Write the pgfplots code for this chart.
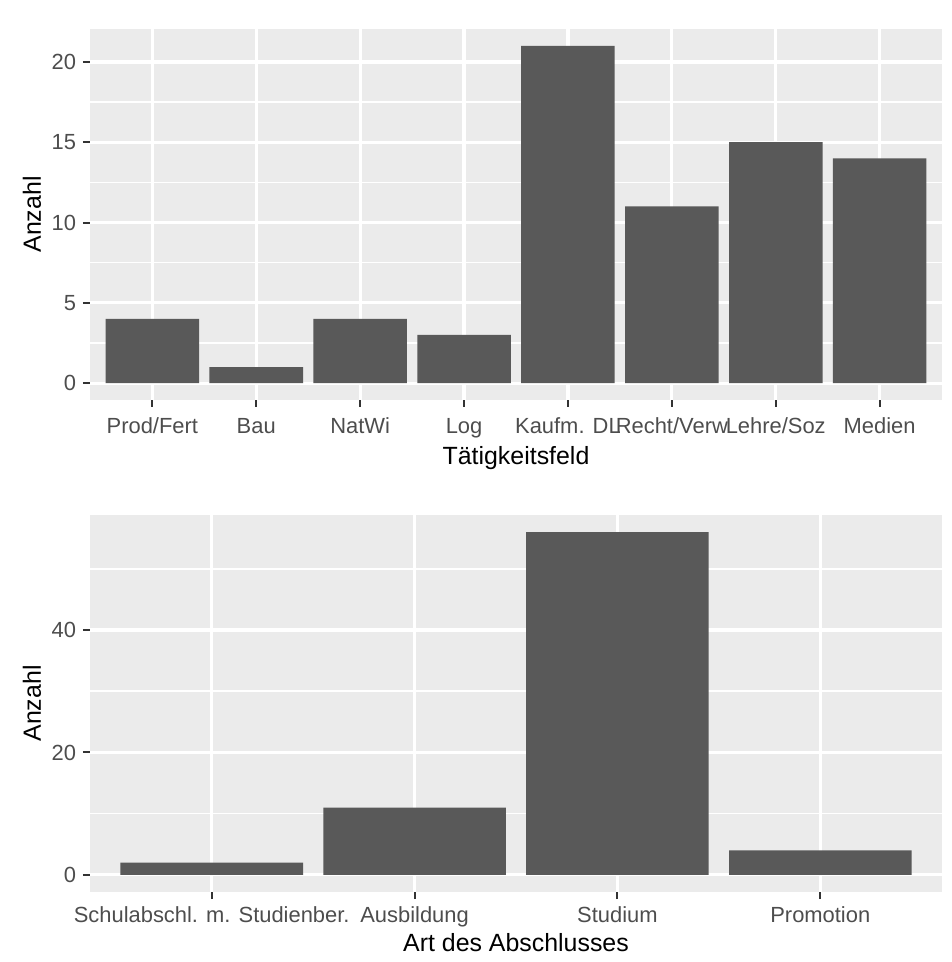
\documentclass[border=0pt]{standalone}
\usepackage{fontspec}
\setmainfont{Liberation Sans}
\usepackage{pgfplots}
\usepackage{pgfplotstable}
\pgfplotsset{compat=1.18}
\definecolor{panel}{HTML}{EBEBEB}
\definecolor{barc}{HTML}{595959}
\definecolor{tickc}{HTML}{333333}
\definecolor{tickl}{HTML}{4D4D4D}

\pgfplotstableread{
x y
1 4
2 1
3 4
4 3
5 21
6 11
7 15
8 14
}\topdata

\pgfplotstableread{
x y
1 2
2 11
3 56
4 4
}\bottomdata

\pgfplotsset{
  ggstyle/.style={
    scale only axis,
    width=426bp,
    axis background/.style={fill=panel},
    axis line style={draw=none},
    tick align=outside,
    major tick length=3.5bp,
    minor tick length=0pt,
    tick style={color=tickc, line width=1bp},
    xtick pos=lower, ytick pos=left,
    xmajorgrids, ymajorgrids, yminorgrids,
    major grid style={white, line width=1.6bp},
    minor grid style={white, line width=0.8bp},
    ticklabel style={font=\fontsize{11}{13}\selectfont, text=tickl},
    xticklabel style={text height=1.6ex, text depth=0.3ex},
    label style={font=\fontsize{12.5}{15}\selectfont, text=black},
    /pgf/number format/assume math mode=true,
    ybar, bar width=0.9,
    ylabel={Anzahl},
    ylabel style={at={(axis description cs:-0.068,0.5)}, anchor=center},
  }
}

\begin{document}
\begin{tikzpicture}
\useasboundingbox (0,0) rectangle (476bp,481bp);
\begin{axis}[ggstyle,
  at={(45bp,281bp)}, anchor=south west,
  height=185.5bp,
  xmin=0.4, xmax=8.6, ymin=-1.05, ymax=22.05,
  xtick={1,2,3,4,5,6,7,8},
  xticklabels={Prod/Fert,Bau,NatWi,Log,Kaufm. DL,Recht/Verw,Lehre/Soz,Medien},
  xticklabel style={yshift=-1.5bp},
  ytick={0,5,10,15,20},
  minor ytick={2.5,7.5,12.5,17.5},
  xlabel={Tätigkeitsfeld},
  xlabel style={at={(axis description cs:0.5,-0.156)}, anchor=center},
]
\addplot[fill=barc, draw=none] table[x=x,y=y] {\topdata};
\end{axis}
\begin{axis}[ggstyle,
  at={(45bp,35bp)}, anchor=south west,
  height=188.5bp,
  xmin=0.4, xmax=4.6, ymin=-2.8, ymax=58.8,
  xtick={1,2,3,4},
  xticklabels={Schulabschl. m. Studienber.,Ausbildung,Studium,Promotion},
  ytick={0,20,40},
  minor ytick={10,30,50},
  xlabel={Art des Abschlusses},
  xlabel style={at={(axis description cs:0.5,-0.135)}, anchor=center},
]
\addplot[fill=barc, draw=none] table[x=x,y=y] {\bottomdata};
\end{axis}
\end{tikzpicture}
\end{document}
